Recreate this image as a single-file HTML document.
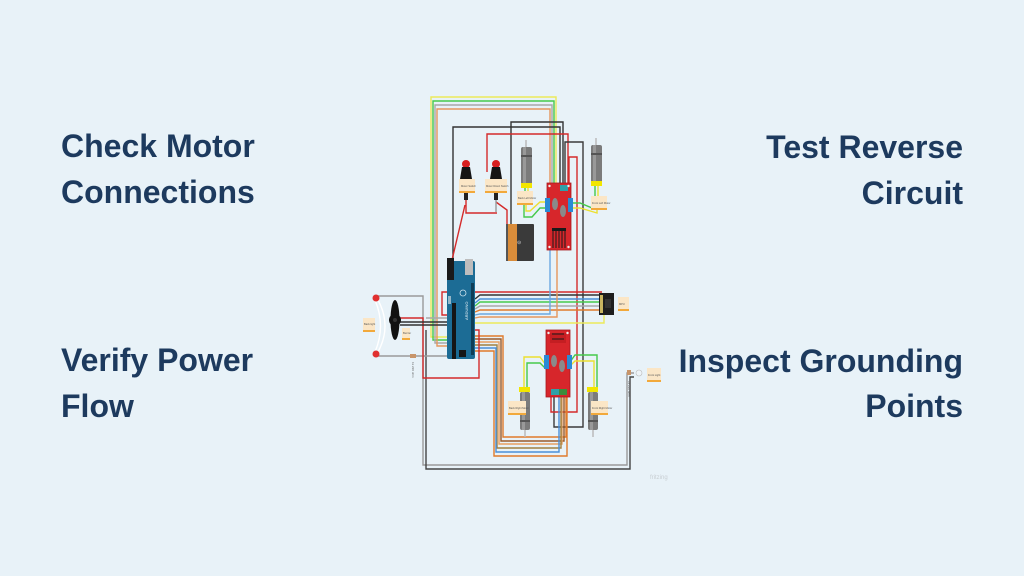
<!DOCTYPE html>
<html><head><meta charset="utf-8"><style>
html,body{margin:0;padding:0;background:#e8f2f8;}
svg{display:block;}
.t{font-family:"Liberation Sans",Arial,sans-serif;font-weight:bold;font-size:32px;fill:#1d3a5e;}
.lb{font-family:"Liberation Sans",sans-serif;font-size:2.6px;fill:#555;}
</style></head><body>
<svg width="1024" height="576" viewBox="0 0 1024 576" xmlns="http://www.w3.org/2000/svg">
<rect width="1024" height="576" fill="#e8f2f8"/>
<text class="t" x="61" y="157">Check Motor</text>
<text class="t" x="61" y="203">Connections</text>
<text class="t" x="963" y="158" text-anchor="end">Test Reverse</text>
<text class="t" x="963" y="204" text-anchor="end">Circuit</text>
<text class="t" x="61" y="371">Verify Power</text>
<text class="t" x="61" y="417">Flow</text>
<text class="t" x="963" y="372" text-anchor="end">Inspect Grounding</text>
<text class="t" x="963" y="417" text-anchor="end">Points</text>

<g fill="none" stroke-width="1.4">
<!-- top bundle -->
<polyline stroke="#ece95a" points="447,337 431,337 431,97 556,97 556,188"/>
<polyline stroke="#46c94a" points="447,340 433,340 433,101 554,101 554,188"/>
<polyline stroke="#a8a8a8" points="447,343 435,343 435,105 552,105 552,188"/>
<polyline stroke="#e6965c" points="447,346 437,346 437,109 550,109 550,188"/>
<polyline stroke="#333" points="453,262 453,127 560,127 560,188"/>
<polyline stroke="#333" points="511,224 511,122 563,122 563,188"/>
<polyline stroke="#d42a2a" points="487,172 487,134 568,134 568,188"/>
<polyline stroke="#3a3a3a" points="565,188 565,142 583,142 583,427 554,427 554,397"/>
<polyline stroke="#d42a2a" points="569,188 569,157 577,157 577,412 551,412 551,397"/>
<!-- switch wiring -->
<polyline stroke="#d42a2a" points="466,200 466,213 497,213"/>
<polyline stroke="#d42a2a" points="496,202 507,210 507,224"/>
<polyline stroke="#d42a2a" points="465,205 452,260"/>
<line stroke="#999" x1="496" y1="200" x2="496" y2="212"/>
<!-- top driver to motors -->
<polyline stroke="#ece030" points="547,202 540,202 530,211 526,211 526,205"/>
<polyline stroke="#46c94a" points="547,208 540,208 532,217 524,217 524,205"/>
<polyline stroke="#46c94a" points="571,203 580,203 592,208 592,210"/>
<polyline stroke="#ece030" points="571,208 580,208 597,213 597,210"/>
<line stroke="#46c94a" x1="525" y1="188" x2="525" y2="191"/>
<line stroke="#ece030" x1="528" y1="188" x2="528" y2="191"/>
<line stroke="#46c94a" x1="595" y1="183" x2="595" y2="196"/>
<line stroke="#ece030" x1="598" y1="183" x2="598" y2="196"/>
<!-- arduino to module -->
<polyline stroke="#d42a2a" points="447,315 442,315 442,292 602,292"/>
<polyline stroke="#333" points="475,299 480,295 602,295"/>
<polyline stroke="#4a8fd8" points="475,303 480,299 602,299"/>
<polyline stroke="#46c94a" points="475,306 480,302 602,302"/>
<polyline stroke="#a8a8a8" points="475,309 480,306 602,306"/>
<polyline stroke="#e07b2a" points="475,312 480,310 602,310"/>
<polyline stroke="#6aa8e0" points="475,315 480,314 550,314 550,250"/>
<polyline stroke="#e6965c" points="475,318 480,317 557,317 557,250"/>
<polyline stroke="#ece95a" points="475,323 604,323 604,308"/>
<!-- arduino bundle to bottom driver -->
<polyline stroke="#e07b2a" points="475,336 503,336 503,437 566,437 566,397"/>
<polyline stroke="#9a5b2a" points="475,339 501,339 501,441 564,441 564,397"/>
<polyline stroke="#e8a060" points="475,342 499,342 499,444 562,444 562,397"/>
<polyline stroke="#a08040" points="475,345 497,345 497,448 561,448 561,397"/>
<polyline stroke="#4a8fd8" points="475,348 496,348 496,452 559,452 559,397"/>
<polyline stroke="#e07b2a" points="475,351 494,351 494,456 567,456 567,397"/>
<!-- left side -->
<polyline stroke="#9a9a9a" points="378,296 423,296 423,465 627,465 627,373 634,373"/>
<polyline stroke="#444" points="426,330 426,469 630,469 630,377 634,377"/>
<polyline stroke="#9a9a9a" points="378,356 447,356"/>
<polyline stroke="#d42a2a" points="400,318 423,318 423,378 479,378 479,330 475,330"/>
<polyline stroke="#333" points="400,322 447,322"/>
<polyline stroke="#333" points="400,325 447,325"/>
<polyline stroke="#a8a8a8" points="426,318 447,318"/>
<!-- bottom driver to motors -->
<polyline stroke="#ece030" points="546,365 540,357 524,357 524,388"/>
<polyline stroke="#46c94a" points="546,369 540,363 527,363 527,388"/>
<polyline stroke="#46c94a" points="570,362 575,355 597,355 597,388"/>
<polyline stroke="#ece030" points="570,366 575,361 594,361 594,388"/>
<path stroke="#fff" d="M378,300 Q392,326 378,352 M375,300 Q386,326 375,352"/>
</g>

<!-- battery -->
<rect x="506" y="224" width="28" height="37" fill="#3a3a3a" rx="1"/>
<rect x="507" y="224" width="10" height="37" fill="#d98c3a"/>
<rect x="506" y="224" width="2" height="37" fill="#555"/>
<text x="517" y="244" font-family="Liberation Sans" font-size="5" fill="#ddd">⊝</text>

<!-- switches -->
<g>
<circle cx="466" cy="164" r="4" fill="#d81f1f"/>
<path d="M462,167 L470,167 L472,179 L460,179 Z" fill="#151515"/>
<rect x="459" y="179" width="16" height="14" fill="#fbe6c6"/>
<rect x="459" y="191" width="16" height="2" fill="#f2a93b"/>
<text class="lb" x="461" y="187">Motor Switch</text>
<rect x="464" y="193" width="4" height="7" fill="#222"/>
<circle cx="496" cy="164" r="4" fill="#d81f1f"/>
<path d="M492,167 L500,167 L502,179 L490,179 Z" fill="#151515"/>
<rect x="485" y="179" width="22" height="14" fill="#fbe6c6"/>
<rect x="485" y="191" width="22" height="2" fill="#f2a93b"/>
<text class="lb" x="486" y="187">Motor Direct Switch</text>
<rect x="494" y="193" width="4" height="7" fill="#222"/>
</g>

<!-- motors -->
<g>
<line x1="526" y1="140" x2="526" y2="148" stroke="#bbb" stroke-width="1.5"/>
<rect x="521" y="147" width="11" height="38" fill="#7b7b7b" rx="2"/>
<rect x="523" y="147" width="3" height="38" fill="#999"/>
<rect x="521" y="155" width="11" height="2" fill="#555"/>
<rect x="521" y="183" width="11" height="5" fill="#f2e600"/>
<rect x="517" y="191" width="16" height="14" fill="#fbe6c6"/>
<rect x="517" y="203" width="16" height="2" fill="#f2a93b"/>
<text class="lb" x="518" y="199">Back Left Motor</text>

<line x1="596" y1="138" x2="596" y2="146" stroke="#bbb" stroke-width="1.5"/>
<rect x="591" y="145" width="11" height="38" fill="#7b7b7b" rx="2"/>
<rect x="593" y="145" width="3" height="38" fill="#999"/>
<rect x="591" y="153" width="11" height="2" fill="#555"/>
<rect x="591" y="181" width="11" height="5" fill="#f2e600"/>
<rect x="591" y="196" width="16" height="14" fill="#fbe6c6"/>
<rect x="591" y="208" width="16" height="2" fill="#f2a93b"/>
<text class="lb" x="592" y="204">Front Left Motor</text>

<rect x="519" y="387" width="11" height="5" fill="#f2e600"/>
<rect x="520" y="392" width="10" height="38" fill="#7b7b7b" rx="2"/>
<rect x="522" y="392" width="3" height="38" fill="#999"/>
<rect x="520" y="420" width="10" height="2" fill="#555"/>
<line x1="525" y1="430" x2="525" y2="437" stroke="#bbb" stroke-width="1.5"/>
<rect x="508" y="401" width="18" height="14" fill="#fbe6c6"/>
<rect x="508" y="413" width="18" height="2" fill="#f2a93b"/>
<text class="lb" x="509" y="409">Back Right Motor</text>

<rect x="587" y="387" width="11" height="5" fill="#f2e600"/>
<rect x="588" y="392" width="10" height="38" fill="#7b7b7b" rx="2"/>
<rect x="590" y="392" width="3" height="38" fill="#999"/>
<rect x="588" y="420" width="10" height="2" fill="#555"/>
<line x1="593" y1="430" x2="593" y2="437" stroke="#bbb" stroke-width="1.5"/>
<rect x="591" y="401" width="17" height="14" fill="#fbe6c6"/>
<rect x="591" y="413" width="17" height="2" fill="#f2a93b"/>
<text class="lb" x="592" y="409">Front Right Motor</text>
</g>

<!-- top driver -->
<g>
<rect x="547" y="183" width="24" height="67" fill="#d7262b" stroke="#a81a1e" stroke-width="0.8"/>
<rect x="545" y="198" width="5" height="14" fill="#2a8ad4"/>
<rect x="568" y="198" width="5" height="14" fill="#2a8ad4"/>
<rect x="560" y="185" width="8" height="6" fill="#2fa0a8"/>
<ellipse cx="555" cy="204" rx="3" ry="6" fill="#8a8a8a"/>
<ellipse cx="563" cy="211" rx="3" ry="6" fill="#8a8a8a"/>
<rect x="552" y="228" width="14" height="3" fill="#1a1a1a"/>
<g stroke="#1a1a1a" stroke-width="1"><line x1="553" y1="231" x2="553" y2="248"/><line x1="556" y1="231" x2="556" y2="248"/><line x1="559" y1="231" x2="559" y2="248"/><line x1="562" y1="231" x2="562" y2="248"/><line x1="565" y1="231" x2="565" y2="248"/></g>
<circle cx="549.5" cy="186" r="1.2" fill="#eee"/><circle cx="568.5" cy="186" r="1.2" fill="#eee"/>
<circle cx="549.5" cy="247" r="1.2" fill="#eee"/><circle cx="568.5" cy="247" r="1.2" fill="#eee"/>
</g>
<!-- bottom driver -->
<g>
<rect x="546" y="330" width="24" height="67" fill="#d7262b" stroke="#a81a1e" stroke-width="0.8"/>
<rect x="550" y="333" width="16" height="10" fill="#c41e22"/>
<g stroke="#1a1a1a" stroke-width="1"><line x1="552" y1="334" x2="564" y2="334"/><line x1="552" y1="339" x2="564" y2="339"/></g>
<rect x="544" y="355" width="5" height="14" fill="#2a8ad4"/>
<rect x="567" y="355" width="5" height="14" fill="#2a8ad4"/>
<ellipse cx="554" cy="361" rx="3" ry="6" fill="#8a8a8a"/>
<ellipse cx="562" cy="366" rx="3" ry="6" fill="#8a8a8a"/>
<rect x="551" y="389" width="8" height="6" fill="#2fa0a8"/>
<rect x="559" y="389" width="8" height="6" fill="#3c8c3c"/>
<circle cx="548.5" cy="333" r="1.2" fill="#eee"/><circle cx="567.5" cy="333" r="1.2" fill="#eee"/>
</g>

<!-- arduino -->
<g>
<rect x="447" y="261" width="28" height="98" fill="#1c6c95" rx="2"/>
<rect x="465" y="259" width="8" height="16" fill="#bdbdbd"/>
<rect x="447" y="258" width="7" height="22" fill="#1a1a1a"/>
<rect x="452" y="303" width="4" height="56" fill="#151515"/>
<rect x="471" y="283" width="3" height="72" fill="#0f3e57"/>
<circle cx="463" cy="293" r="3" fill="none" stroke="#cfe3ee" stroke-width="0.8"/>
<rect x="459" y="350" width="7" height="7" fill="#151515"/>
<rect x="448" y="296" width="3" height="8" fill="#e8e8e8" opacity="0.6"/>
<text x="0" y="0" transform="translate(468,320) rotate(-90)" font-family="Liberation Sans" font-size="4" fill="#e8f0f4">ARDUINO</text>
</g>

<!-- module -->
<rect x="599" y="293" width="15" height="22" fill="#1e1e1e"/>
<rect x="600" y="295" width="3" height="18" fill="#c9b560"/>
<rect x="605" y="299" width="6" height="9" fill="#333"/>
<rect x="618" y="297" width="11" height="14" fill="#fbe6c6"/>
<rect x="618" y="309" width="11" height="2" fill="#f2a93b"/>
<text class="lb" x="619" y="305">MPU</text>

<!-- buzzer & leds -->
<ellipse cx="395" cy="320" rx="4.5" ry="20" fill="#111"/>
<circle cx="395" cy="320" r="6" fill="#111"/>
<circle cx="395" cy="320" r="2" fill="#333"/>
<rect x="402" y="328" width="8" height="12" fill="#fbe6c6"/>
<rect x="402" y="338" width="8" height="2" fill="#f2a93b"/>
<text class="lb" x="403" y="334">Buzzer</text>
<circle cx="376" cy="298" r="3.5" fill="#e03030"/>
<circle cx="376" cy="354" r="3.5" fill="#e03030"/>
<rect x="363" y="318" width="12" height="14" fill="#fbe6c6"/>
<rect x="363" y="330" width="12" height="2" fill="#f2a93b"/>
<text class="lb" x="364" y="325">Back light</text>
<rect x="410" y="354" width="6" height="4" fill="#c8956a"/>
<text x="0" y="0" transform="translate(412,362) rotate(90)" font-family="Liberation Sans" font-size="3" fill="#666">1k 220 ohm</text>

<!-- front light -->
<circle cx="639" cy="373" r="3" fill="#eef4f8" stroke="#bbb" stroke-width="0.6"/>
<rect x="627" y="370" width="4" height="5" fill="#c8956a"/>
<rect x="647" y="368" width="14" height="14" fill="#fbe6c6"/>
<rect x="647" y="380" width="14" height="2" fill="#f2a93b"/>
<text class="lb" x="648" y="376">Front Light</text>
<text x="0" y="0" transform="translate(628,381) rotate(90)" font-family="Liberation Sans" font-size="3" fill="#666">1k 220 ohm</text>

<text x="650" y="479" font-family="Liberation Sans" font-size="6" fill="#c8ced2">fritzing</text>
</svg>
</body></html>
